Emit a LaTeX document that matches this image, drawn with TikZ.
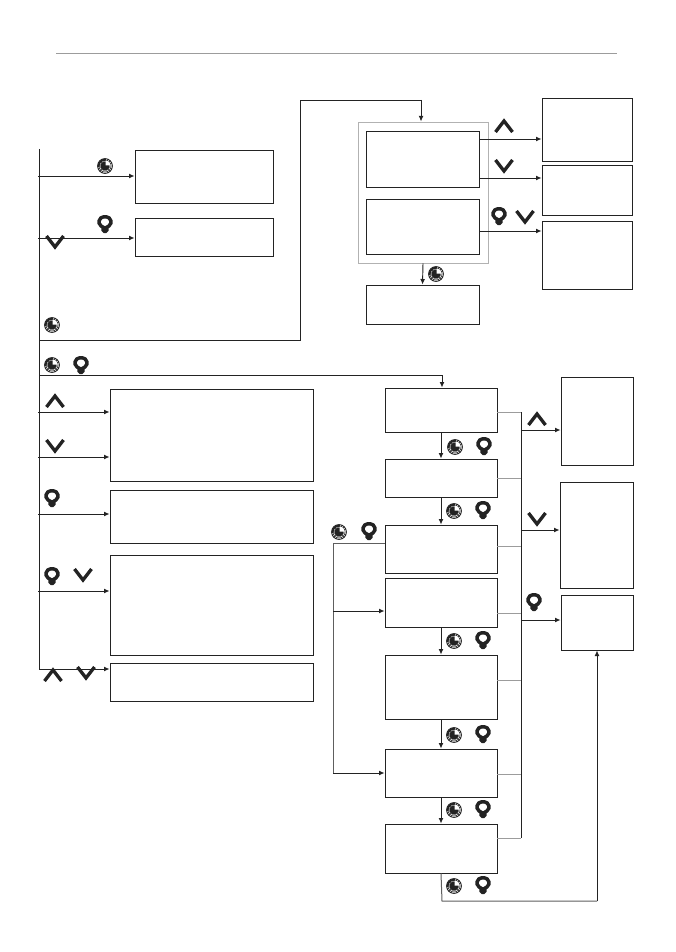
\documentclass[tikz,border=0pt]{standalone}
\usepackage{tikz}
\usetikzlibrary{arrows.meta,fit}

\begin{document}
\begin{tikzpicture}[
    x=0.75pt, y=-0.75pt,
    block/.style={draw=inkline, line width=0.6pt, inner sep=0pt},
    frame/.style={draw=framegray, line width=0.7pt, inner sep=0pt},
    arrow/.style={-{Latex[length=4.2pt,width=3.6pt]}, draw=inkline, line width=0.7pt},
    line/.style={draw=inkline, line width=0.7pt},
    stub/.style={draw=stubgray, line width=0.7pt},
    loopline/.style={draw=loopgray, line width=0.75pt},
    chevron/.style={draw=inkline, line width=2.5pt},
    keyup/.pic={\draw[chevron] (-8.5,6) -- (0,-5) -- (8.5,6);},
    keydown/.pic={\draw[chevron] (-8.5,-6) -- (0,5) -- (8.5,-6);},
    keybulb/.pic={
        \draw[draw=inkline, line width=2.6pt, fill=white, rounded corners=1pt]
            (-1.9,7.4) -- (-1.9,4.5) .. controls (-1.9,2.8) and (-5.8,2) .. (-5.8,-2)
            .. controls (-5.8,-5.4) and (-3,-7.2) .. (0,-7.2)
            .. controls (3,-7.2) and (5.8,-5.4) .. (5.8,-2)
            .. controls (5.8,2) and (1.9,2.8) .. (1.9,4.5) -- (1.9,7.4) -- cycle;
    },
    keyclock/.pic={
        \draw[draw=inkline, line width=0.35pt]
            (-7,0) -- (7,0) (0,-7) -- (0,7) (-5,-5) -- (5,5) (-5,5) -- (5,-5)
            (-2.7,-6.6) -- (2.7,6.6) (-6.6,-2.7) -- (6.6,2.7) (-2.7,6.6) -- (2.7,-6.6) (-6.6,2.7) -- (6.6,-2.7);
        \draw[draw=inkline, line width=0.35pt] (0,0) circle (6);
        \fill[inkline] (0,0) circle (4.7);
        \fill[white] (0.5,-0.5) -- (0.5,-5.6) arc[start angle=-90, end angle=0, radius=5.1] -- cycle;
        \draw[draw=inkline, line width=0.7pt] (0,0) circle (7.4);
        \draw[draw=inkline, line width=1.3pt] (1,-6.2) arc[start angle=-81, end angle=-190, radius=6.3];
    }
]
\definecolor{inkline}{HTML}{232323}
\definecolor{framegray}{HTML}{B2B2B2}
\definecolor{stubgray}{HTML}{9C9C9C}
\definecolor{loopgray}{HTML}{5E5E5E}
\useasboundingbox (0,0) rectangle (675,952);

% header rule
\coordinate (ruleStart) at (56,53);
\coordinate (ruleEnd) at (617,53);
\draw[stub, line width=0.7pt] (ruleStart) -- (ruleEnd);

% left column
\node[block, fit={(135,150) (273,203)}] (clockBox) {};
\node[block, fit={(135,218) (273,256)}] (lampBox) {};
\node[block, fit={(110,389) (313,481)}] (upBox) {};
\node[block, fit={(110,490) (313,543)}] (holdBox) {};
\node[block, fit={(110,555) (313,655)}] (comboBox) {};
\node[block, fit={(110,663) (313,701)}] (resetBox) {};

% upper group
\node[frame, fit={(358,122) (488,263)}] (groupFrame) {};
\node[block, fit={(366,131) (479,187)}] (groupTop) {};
\node[block, fit={(366,199) (479,254)}] (groupLow) {};
\node[block, fit={(366,285) (479,324)}] (groupNext) {};
\node[block, fit={(542,98) (632,161)}] (sideUp) {};
\node[block, fit={(542,165) (632,215)}] (sideDown) {};
\node[block, fit={(542,221) (632,289)}] (sideCombo) {};

% lower chain
\node[block, fit={(385,388) (497,432)}] (stepA) {};
\node[block, fit={(385,459) (497,497)}] (stepB) {};
\node[block, fit={(385,525) (497,573)}] (stepC) {};
\node[block, fit={(385,578) (497,627)}] (stepD) {};
\node[block, fit={(385,655) (497,719)}] (stepE) {};
\node[block, fit={(385,749) (497,797)}] (stepF) {};
\node[block, fit={(385,824) (497,873)}] (stepG) {};
\node[block, fit={(561,377) (633,465)}] (adjUp) {};
\node[block, fit={(560,482) (633,588)}] (adjDown) {};
\node[block, fit={(561,595) (633,650)}] (adjLamp) {};

% trunk
\coordinate (trunkTop) at (39,149);
\coordinate (trunkEnd) at (39,669);
\draw[line] (trunkTop) -- (trunkEnd);
\coordinate (tapClock) at (38,176);
\coordinate (tapLamp) at (38,238);
\coordinate (tapUp) at (38,412);
\coordinate (tapDown) at (38,457);
\coordinate (tapHold) at (38,514);
\coordinate (tapCombo) at (38,591);
\draw[arrow] (tapClock) -- (tapClock -| clockBox.west);
\draw[arrow] (tapLamp) -- (tapLamp -| lampBox.west);
\draw[arrow] (tapUp) -- (tapUp -| upBox.west);
\draw[arrow] (tapDown) -- (tapDown -| upBox.west);
\draw[arrow] (tapHold) -- (tapHold -| holdBox.west);
\draw[arrow] (tapCombo) -- (tapCombo -| comboBox.west);
\draw[arrow] (trunkEnd) -- (trunkEnd -| resetBox.west);

% routes to the two groups
\coordinate (riseStart) at (39,340);
\coordinate (riseTurn) at (300,100);
\coordinate (riseDrop) at (421,100);
\coordinate (chainStart) at (39,375);
\coordinate (chainDrop) at (442,375);
\draw[line] (riseStart) -| (riseTurn) -- (riseDrop);
\draw[arrow] (riseDrop) -- (riseDrop |- groupFrame.north);
\draw[line] (chainStart) -- (chainDrop);
\draw[arrow] (chainDrop) -- (chainDrop |- stepA.north);

% upper group links
\coordinate (outUp) at (479,139);
\coordinate (outDown) at (479,178);
\coordinate (outCombo) at (479,231);
\draw[arrow] (outUp) -- (outUp -| sideUp.west);
\draw[arrow] (outDown) -- (outDown -| sideDown.west);
\draw[arrow] (outCombo) -- (outCombo -| sideCombo.west);
\draw[arrow] (groupFrame.south) -- (groupNext.north);

% chain links
\draw[arrow] (stepA.south) -- (stepB.north);
\draw[arrow] (stepB.south) -- (stepC.north);
\draw[arrow] (stepD.south) -- (stepE.north);
\draw[arrow] (stepE.south) -- (stepF.north);
\draw[arrow] (stepF.south) -- (stepG.north);

% back loop
\coordinate (loopStart) at (385,543);
\coordinate (loopCorner) at (333,543);
\coordinate (loopMid) at (333,611);
\coordinate (loopEnd) at (333,773);
\draw[loopline] (loopStart) -- (loopCorner) -- (loopEnd);
\draw[arrow] (loopMid) -- (loopMid -| stepD.west);
\draw[arrow] (loopEnd) -- (loopEnd -| stepF.west);

% right bus
\coordinate (busTop) at (521,412);
\coordinate (busEnd) at (521,838);
\coordinate (busB) at (521,478);
\coordinate (busC) at (521,546);
\coordinate (busD) at (521,613);
\coordinate (busE) at (521,680);
\coordinate (busF) at (521,774);
\draw[stub] (busTop -| stepA.east) -- (busTop);
\draw[stub] (busB -| stepB.east) -- (busB);
\draw[stub] (busC -| stepC.east) -- (busC);
\draw[stub] (busD -| stepD.east) -- (busD);
\draw[stub] (busE -| stepE.east) -- (busE);
\draw[stub] (busF -| stepF.east) -- (busF);
\draw[stub] (busEnd -| stepG.east) -- (busEnd);
\draw[line] (busTop) -- (busEnd);
\coordinate (busUp) at (521,430);
\coordinate (busDown) at (521,530);
\coordinate (busLamp) at (521,620);
\draw[arrow] (busUp) -- (busUp -| adjUp.west);
\draw[arrow] (busDown) -- (busDown -| adjDown.west);
\draw[arrow] (busLamp) -- (busLamp -| adjLamp.west);

% bottom return
\coordinate (returnLow) at (442,901);
\coordinate (returnRise) at (597,901);
\draw[loopline] (stepG.south) -- (returnLow) -- (returnRise);
\draw[arrow] (returnRise) -- (returnRise |- adjLamp.south);

% keys, left
\pic at (105,166) {keyclock};
\pic at (105,224) {keybulb};
\pic at (55,242) {keydown};
\pic at (52,325) {keyclock};
\pic at (52,365) {keyclock};
\pic at (81,365) {keybulb};
\pic at (55,401) {keyup};
\pic at (55,446) {keydown};
\pic at (52,498) {keybulb};
\pic at (52,576) {keybulb};
\pic at (83,575) {keydown};
\pic at (53,675) {keyup};
\pic at (86,673) {keydown};

% keys, upper group
\pic at (504,126) {keyup};
\pic at (504,166) {keydown};
\pic at (499,216) {keybulb};
\pic at (525,217) {keydown};
\pic at (436,274) {keyclock};

% keys, chain
\pic at (455,447) {keyclock};
\pic at (484,446) {keybulb};
\pic at (454,511) {keyclock};
\pic at (483,510) {keybulb};
\pic at (339,532) {keyclock};
\pic at (369,531) {keybulb};
\pic at (454,641) {keyclock};
\pic at (483,640) {keybulb};
\pic at (454,735) {keyclock};
\pic at (483,734) {keybulb};
\pic at (454,810) {keyclock};
\pic at (483,809) {keybulb};
\pic at (454,886) {keyclock};
\pic at (483,885) {keybulb};
\pic at (537,419) {keyup};
\pic at (537,519) {keydown};
\pic at (534,602) {keybulb};
\end{tikzpicture}
\end{document}
